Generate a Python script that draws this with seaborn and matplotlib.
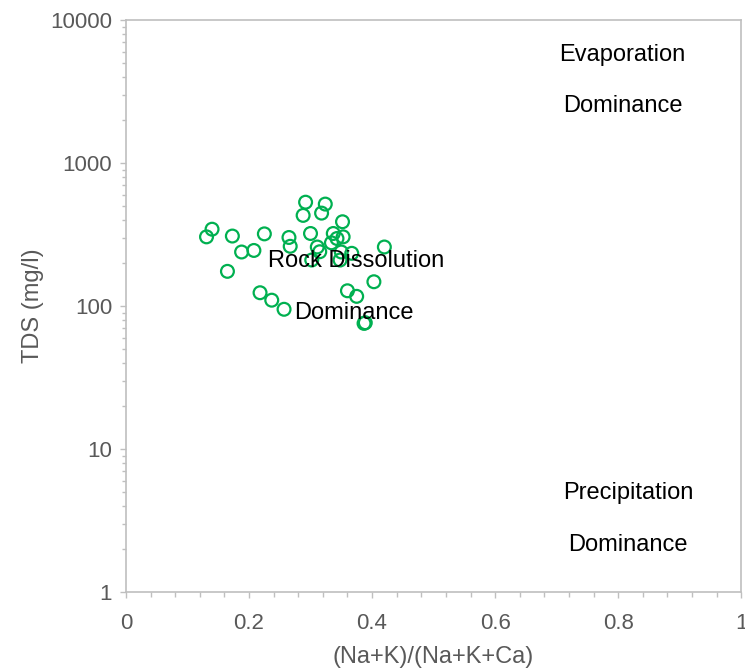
import numpy as np
import pandas as pd
import seaborn as sns
import matplotlib.pyplot as plt
from matplotlib.ticker import FixedLocator, LogLocator, NullFormatter, FuncFormatter

# Dados ------------------------------------------------------------------------

ratio = [0.140, 0.131, 0.173, 0.188, 0.208, 0.225, 0.165, 0.265, 0.267, 0.292,
         0.324, 0.288, 0.318, 0.352, 0.300, 0.337, 0.353, 0.343, 0.334, 0.311,
         0.315, 0.350, 0.367, 0.302, 0.348, 0.420, 0.218, 0.237, 0.257, 0.403,
         0.360, 0.375, 0.387, 0.389]
tds = [345, 305, 309, 239, 245, 320, 175, 302, 262, 533,
       517, 431, 447, 389, 322, 322, 305, 297, 277, 259,
       240, 239, 234, 210, 210, 259, 124, 110, 95, 148,
       128, 117, 75.7, 76.5]

zonas = ["Evaporation", "Rock Dissolution", "Precipitation"]
zonas_x = [0.807, 0.374, 0.816]
zonas_y = [5690, 206, 4.92]
dom_x = [0.807, 0.371, 0.816]
dom_y = [2505, 89.3, 2.13]

df = pd.DataFrame({"ratio": ratio, "tds": tds})

# Plot Gibbs -------------------------------------------------------------------

sns.set_style("white")
plt.rcParams["font.family"] = ["Liberation Sans", "DejaVu Sans"]

cinza = "#595959"
linha = "#BFBFBF"

fig = plt.figure(figsize = (7.45, 6.72), dpi = 100)
ax = fig.add_axes([0.169, 0.119, 0.826, 0.851])

sns.scatterplot(data = df, x = "ratio", y = "tds", ax = ax, marker = "o", s = 85,
                facecolor = "none", edgecolor = "#00B050", linewidth = 1.6)

ax.set_yscale("log")
ax.set_xlim(0, 1)
ax.set_ylim(1, 10000)

ax.xaxis.set_major_locator(FixedLocator([0, 0.2, 0.4, 0.6, 0.8, 1]))
ax.xaxis.set_minor_locator(FixedLocator(np.arange(0, 1.001, 0.04)))
ax.xaxis.set_major_formatter(FuncFormatter(lambda v, p: f"{v:g}"))
ax.yaxis.set_major_locator(FixedLocator([1, 10, 100, 1000, 10000]))
ax.yaxis.set_minor_locator(LogLocator(base = 10, subs = np.arange(2, 10)))
ax.yaxis.set_major_formatter(FuncFormatter(lambda v, p: f"{v:g}"))
ax.yaxis.set_minor_formatter(NullFormatter())

ax.tick_params(axis = "both", which = "both", direction = "out", color = linha,
               labelcolor = cinza, labelsize = 16, bottom = True, left = True)
ax.tick_params(axis = "x", which = "major", length = 4, width = 1, pad = 11)
ax.tick_params(axis = "x", which = "minor", length = 3.5, width = 1)
ax.tick_params(axis = "y", which = "major", length = 4, width = 1, pad = 6)
ax.tick_params(axis = "y", which = "minor", length = 3, width = 1)

for s in ax.spines.values():
    s.set_color(linha)
    s.set_linewidth(1.2)

ax.set_xlabel("(Na+K)/(Na+K+Ca)", fontsize = 17, color = cinza, labelpad = 9)
ax.set_ylabel("TDS (mg/l)", fontsize = 17, color = cinza, labelpad = 4)

for txt, xx, yy in zip(zonas, zonas_x, zonas_y):
    ax.text(xx, yy, txt, ha = "center", va = "center", fontsize = 17, color = "black")
for xx, yy in zip(dom_x, dom_y):
    ax.text(xx, yy, "Dominance", ha = "center", va = "center", fontsize = 17, color = "black")

fig.savefig("out.png", dpi = 100)
